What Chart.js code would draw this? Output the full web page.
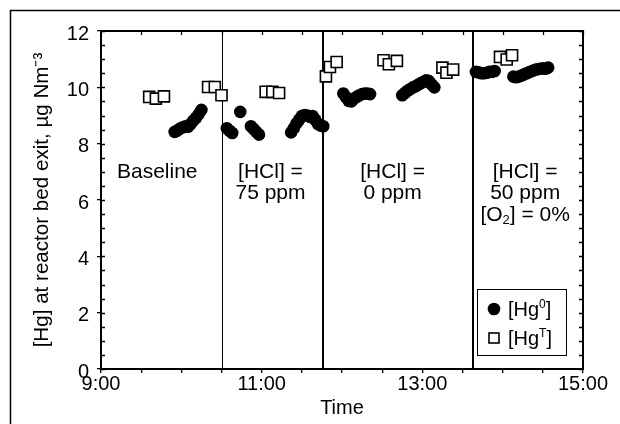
<!DOCTYPE html>
<html>
<head>
<meta charset="utf-8">
<script src="https://cdn.jsdelivr.net/npm/chart.js@4/dist/chart.umd.min.js"></script>
<style>
  body { margin: 0; background: #fff; }
  #myChart { display: block; }
</style>
</head>
<body>
<canvas id="myChart" width="620" height="424"></canvas>
<script>
// Data Hg (time of day, ug/Nm3)
var hg0Times = ['9:55', '9:57', '9:59', '10:01', '10:03', '10:05', '10:07', '10:09', '10:11', '10:13', '10:15',
  '10:34', '10:36', '10:38', '10:44', '10:52', '10:54', '10:56', '10:58',
  '11:22', '11:24', '11:26', '11:28', '11:30', '11:32', '11:34', '11:36', '11:38', '11:40', '11:42', '11:44', '11:46',
  '12:01', '12:03', '12:05', '12:07', '12:09', '12:11', '12:13', '12:15', '12:17', '12:19', '12:21',
  '12:45', '12:47', '12:49', '12:51', '12:53', '12:55', '12:57', '12:59', '13:01', '13:03', '13:05', '13:07', '13:09',
  '13:40', '13:42', '13:44', '13:46', '13:48', '13:50', '13:52', '13:54',
  '14:08', '14:10', '14:12', '14:14', '14:16', '14:18', '14:20', '14:22', '14:24', '14:26', '14:28', '14:30', '14:32', '14:34'];
var hg0Values = [8.42, 8.47, 8.54, 8.58, 8.62, 8.60, 8.70, 8.82, 8.92, 9.05, 9.20,
  8.55, 8.46, 8.38, 9.13, 8.62, 8.52, 8.42, 8.32,
  8.40, 8.55, 8.72, 8.85, 8.98, 9.02, 9.00, 8.95, 8.98, 8.85, 8.70, 8.64, 8.62,
  9.78, 9.65, 9.52, 9.50, 9.60, 9.66, 9.72, 9.76, 9.78, 9.78, 9.76,
  9.72, 9.80, 9.88, 9.94, 10.00, 10.04, 10.10, 10.15, 10.20, 10.25, 10.22, 10.10, 10.00,
  10.55, 10.53, 10.50, 10.50, 10.52, 10.55, 10.55, 10.58,
  10.38, 10.36, 10.38, 10.42, 10.46, 10.50, 10.54, 10.58, 10.62, 10.64, 10.66, 10.68, 10.66, 10.70];

var hgTTimes = ['9:36', '9:41', '9:47', '10:20', '10:25', '10:30', '11:03', '11:08', '11:13',
  '11:48', '11:51', '11:56', '12:31', '12:35', '12:41', '13:15', '13:18', '13:23', '13:58', '14:03', '14:07'];
var hgTValues = [9.66, 9.60, 9.68, 10.01, 10.01, 9.72, 9.84, 9.84, 9.80,
  10.39, 10.72, 10.90, 10.96, 10.82, 10.94, 10.70, 10.52, 10.63, 11.08, 10.99, 11.14];

// phase changes
var phaseTimes = ['10:30', '11:46', '13:38'];
var phaseNotes = [
  ['Baseline'],
  ['[HCl] =', '75 ppm'],
  ['[HCl] =', '0 ppm'],
  ['[HCl] =', '50 ppm', '[O_2] = 0%']
];

var xTickLabels = ['9:00', '11:00', '13:00', '15:00'];
var yTickLabels = ['0', '2', '4', '6', '8', '10', '12'];
var seriesNames = ['[Hg^0]', '[Hg^T]'];

var FONT = "'Liberation Sans', Arial, sans-serif";

function toHours(t) {
  var p = t.split(':');
  return Number(p[0]) + Number(p[1]) / 60;
}

function points(times, values) {
  return times.map(function (t, i) { return { x: toHours(t), y: values[i] }; });
}

// text with ^x superscript and _x subscript
function drawRich(ctx, text, x, y, align, size) {
  var parts = [];
  for (var i = 0; i < text.length; i++) {
    var c = text[i];
    if ((c === '^' || c === '_') && i + 1 < text.length) {
      parts.push({ t: text[i + 1], s: c });
      i++;
    } else {
      if (parts.length && !parts[parts.length - 1].s) parts[parts.length - 1].t += c;
      else parts.push({ t: c, s: null });
    }
  }
  var small = Math.round(size * 0.62);
  var w = 0;
  parts.forEach(function (p) {
    ctx.font = (p.s ? small : size) + 'px ' + FONT;
    p.w = ctx.measureText(p.t).width;
    w += p.w;
  });
  var cx = align === 'center' ? x - w / 2 : x;
  ctx.textAlign = 'left';
  ctx.textBaseline = 'alphabetic';
  parts.forEach(function (p) {
    ctx.font = (p.s ? small : size) + 'px ' + FONT;
    var dy = p.s === '^' ? -size * 0.38 : (p.s === '_' ? size * 0.15 : 0);
    ctx.fillText(p.t, cx, y + dy);
    cx += p.w;
  });
}

var noteHours = [9.70, 11.11, 12.63, 14.28];

var framePlugin = {
  id: 'frame',
  beforeDatasetsDraw: function (chart) {
    var ctx = chart.ctx, a = chart.chartArea, xs = chart.scales.x;
    ctx.save();
    ctx.strokeStyle = '#000';
    phaseTimes.forEach(function (t, i) {
      var px = Math.round(xs.getPixelForValue(toHours(t)));
      ctx.lineWidth = i === 0 ? 1 : 2;
      ctx.beginPath();
      ctx.moveTo(px + (i === 0 ? 0.5 : 0), a.top);
      ctx.lineTo(px + (i === 0 ? 0.5 : 0), a.bottom);
      ctx.stroke();
    });
    ctx.restore();
  },
  afterDatasetsDraw: function (chart) {
    var ctx = chart.ctx, a = chart.chartArea, xs = chart.scales.x, ys = chart.scales.y;
    ctx.save();
    ctx.strokeStyle = '#000';
    ctx.fillStyle = '#000';

    // plot box
    ctx.lineWidth = 2;
    ctx.strokeRect(a.left, a.top, a.right - a.left, a.bottom - a.top);

    // inward ticks
    ctx.lineWidth = 1.3;
    ctx.beginPath();
    ys.ticks.forEach(function (tk) {
      var py = Math.round(ys.getPixelForValue(tk.value)) + 0.5;
      ctx.moveTo(a.left, py); ctx.lineTo(a.left + 4, py);
      ctx.moveTo(a.right, py); ctx.lineTo(a.right - 4, py);
    });
    xs.ticks.forEach(function (tk) {
      var px = Math.round(xs.getPixelForValue(tk.value)) + 0.5;
      ctx.moveTo(px, a.top); ctx.lineTo(px, a.top + 4);
    });
    ctx.stroke();

    // condition notes
    phaseNotes.forEach(function (lines, i) {
      var px = xs.getPixelForValue(noteHours[i]);
      lines.forEach(function (txt, j) {
        var py = ys.getPixelForValue(7.06 - j * 0.77) + 7.5;
        drawRich(ctx, txt, px, py, 'center', 21);
      });
    });

    // legend
    var lx = a.right - 106, ly = a.bottom - 80, lw = 89, lh = 66;
    ctx.lineWidth = 1;
    ctx.strokeRect(lx + 0.5, ly + 0.5, lw, lh);
    ctx.beginPath();
    ctx.arc(lx + 17, ly + 20, 6.3, 0, Math.PI * 2);
    ctx.fill();
    ctx.lineWidth = 1.6;
    ctx.fillStyle = '#fff';
    ctx.fillRect(lx + 12, ly + 44, 10, 10);
    ctx.strokeRect(lx + 12, ly + 44, 10, 10);
    ctx.fillStyle = '#000';
    drawRich(ctx, seriesNames[0], lx + 31, ly + 27, 'left', 20);
    drawRich(ctx, seriesNames[1], lx + 31, ly + 56, 'left', 20);

    // outer figure frame
    ctx.lineWidth = 1.5;
    ctx.beginPath();
    ctx.moveTo(10.5, 424); ctx.lineTo(10.5, 10.5); ctx.lineTo(620, 10.5);
    ctx.stroke();
    ctx.restore();
  }
};

var ctx = document.getElementById('myChart').getContext('2d');
Chart.defaults.color = '#000';
Chart.defaults.font.family = FONT;

var myChart = new Chart(ctx, {
  type: 'scatter',
  data: {
    datasets: [{
      label: '[Hg0]',
      data: points(hg0Times, hg0Values),
      pointStyle: 'circle',
      pointRadius: 6.3,
      backgroundColor: '#000',
      borderColor: '#000',
      borderWidth: 0
    }, {
      label: '[HgT]',
      data: points(hgTTimes, hgTValues),
      pointStyle: 'rect',
      pointRadius: 7.8,
      backgroundColor: '#fff',
      borderColor: '#000',
      borderWidth: 1.6
    }]
  },
  options: {
    responsive: false,
    animation: false,
    layout: { padding: { top: 31, right: 37, bottom: 0, left: 0 } },
    plugins: {
      legend: { display: false },
      tooltip: { enabled: false }
    },
    scales: {
      x: {
        type: 'linear',
        min: 9,
        max: 15,
        afterFit: function (s) { s.height = 55; },
        border: { display: false },
        grid: { drawOnChartArea: false, drawTicks: true, tickLength: 4, color: '#000', lineWidth: 1.3 },
        ticks: {
          stepSize: 0.5,
          autoSkip: false,
          maxRotation: 0,
          padding: -1,
          font: { size: 20 },
          callback: function (v) {
            var l = xTickLabels.find(function (s) { return Math.abs(toHours(s) - v) < 1e-6; });
            return l || '';
          }
        },
        title: { display: true, text: 'Time', font: { size: 20 }, padding: { top: 0, bottom: 4 } }
      },
      y: {
        min: 0,
        max: 12,
        afterFit: function (s) { s.width = 101; },
        border: { display: false },
        grid: {
          drawOnChartArea: false,
          drawTicks: true,
          tickLength: 4,
          lineWidth: 1.3,
          color: function (c) { return c.tick && c.tick.value % 2 === 0 ? '#000' : 'rgba(0,0,0,0)'; }
        },
        ticks: {
          stepSize: 0.5,
          autoSkip: false,
          padding: 8,
          labelOffset: 3,
          font: { size: 20 },
          callback: function (v) {
            return yTickLabels.indexOf(String(v)) >= 0 ? String(v) : '';
          }
        },
        title: { display: true, text: '[Hg] at reactor bed exit, µg Nm⁻³', font: { size: 20.6 }, padding: { top: 30, bottom: 0 } }
      }
    }
  },
  plugins: [framePlugin]
});
</script>
</body>
</html>
